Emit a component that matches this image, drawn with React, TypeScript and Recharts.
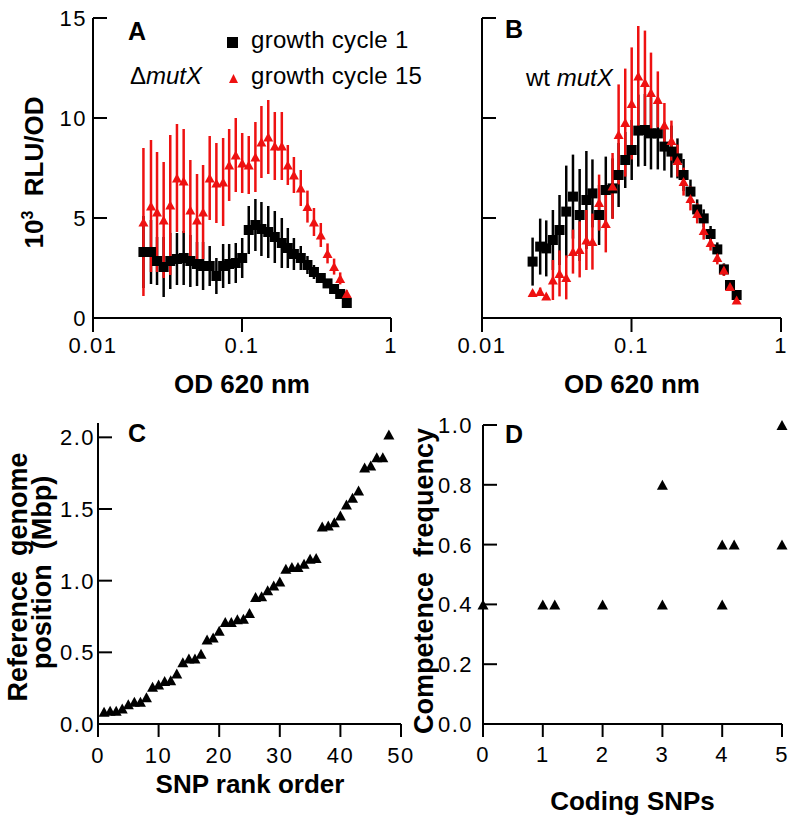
import React from 'react';
import { ScatterChart, Scatter, XAxis, YAxis, ErrorBar } from 'recharts';

const FONT = '"Liberation Sans", Arial, Helvetica, sans-serif';
const RED = '#ee1111';

// Panels A & B: optical density (shared sampling schedule)
const odValues = [0.0218, 0.0245, 0.0269, 0.0298, 0.033, 0.0366, 0.0406, 0.045, 0.0499, 0.0548, 0.0607, 0.0673, 0.0747, 0.082, 0.0908, 0.1003, 0.111, 0.123, 0.135, 0.15, 0.166, 0.185, 0.203, 0.223, 0.248, 0.275, 0.304, 0.338, 0.375, 0.415, 0.456, 0.505];
const odTicks = [0.01, 0.1, 1];
const rluTicks = [0, 5, 10, 15];

// Panel A (ΔmutX)
const aCycle1 = [3.3, 3.3, 2.85, 2.55, 2.85, 2.95, 3.0, 2.85, 2.7, 2.6, 2.6, 2.1, 2.6, 2.7, 2.75, 3.0, 4.4, 4.65, 4.45, 4.3, 4.05, 3.75, 3.5, 3.2, 3.0, 2.65, 2.3, 2.0, 1.73, 1.45, 1.2, 0.75];
const aCycle1Err = [1.8, 1.6, 1.2, 1.5, 1.4, 1.3, 1.35, 1.3, 1.1, 1.2, 1.0, 0.9, 1.1, 1.0, 1.0, 1.0, 1.2, 1.3, 1.35, 1.3, 1.3, 1.25, 1.0, 0.8, 0.6, 0.45, 0.35, 0.25, 0.2, 0.15, 0.1, 0.1];
const aCycle15 = [4.8, 5.6, 5.3, 4.9, 5.65, 7.0, 6.85, 5.4, 4.9, 5.3, 7.0, 6.75, 6.8, 7.65, 8.15, 7.75, 7.65, 8.05, 8.8, 9.05, 8.6, 8.6, 7.65, 7.15, 6.5, 5.57, 4.8, 4.15, 3.23, 2.57, 1.98, 1.23];
const aCycle15Err = [3.7, 3.3, 3.0, 2.9, 3.5, 2.7, 2.6, 2.5, 2.3, 2.35, 2.1, 2.0, 2.2, 1.8, 1.85, 1.5, 1.45, 1.75, 1.8, 1.85, 1.7, 1.7, 1.0, 0.9, 0.9, 0.8, 0.7, 0.6, 0.5, 0.4, 0.3, 0.15];

// Panel B (wt mutX)
const bCycle1 = [2.82, 3.57, 3.48, 3.9, 4.4, 5.32, 6.07, 5.15, 5.9, 6.23, 5.15, 6.4, 6.48, 7.15, 7.9, 8.4, 9.37, 9.4, 9.23, 9.23, 8.57, 8.32, 7.98, 7.15, 6.32, 5.43, 4.98, 4.2, 3.43, 2.43, 1.65, 1.15];
const bCycle1Err = [1.2, 1.4, 1.4, 1.5, 1.75, 2.3, 2.1, 2.3, 2.45, 1.7, 1.5, 1.67, 1.5, 1.6, 1.4, 1.5, 1.8, 1.8, 1.8, 1.8, 1.2, 1.3, 1.0, 0.8, 0.6, 0.5, 0.45, 0.4, 0.35, 0.3, 0.2, 0.1];
const bCycle15 = [1.27, 1.32, 1.1, 1.9, 2.23, 2.03, 3.32, 3.43, 3.9, 3.82, 5.77, 4.73, 6.6, 9.18, 9.77, 10.73, 12.1, 11.77, 11.27, 10.93, 9.65, 8.87, 7.87, 6.82, 5.98, 5.23, 4.37, 3.77, 3.03, 2.4, 1.57, 0.9];
const bCycle15Err = [0.1, 0.2, 0.1, 1.0, 1.15, 1.1, 1.1, 1.4, 1.5, 1.4, 1.4, 1.45, 1.65, 2.5, 2.7, 2.8, 2.5, 2.6, 2.0, 1.4, 1.1, 1.0, 0.8, 0.7, 0.6, 0.5, 0.45, 0.4, 0.35, 0.3, 0.2, 0.1];

// Panel C
const snpRank = [1, 2, 3, 4, 5, 6, 7, 8, 9, 10, 11, 12, 13, 14, 15, 16, 17, 18, 19, 20, 21, 22, 23, 24, 25, 26, 27, 28, 29, 30, 31, 32, 33, 34, 35, 36, 37, 38, 39, 40, 41, 42, 43, 44, 45, 46, 47, 48];
const genomePos = [0.086, 0.093, 0.093, 0.109, 0.137, 0.155, 0.155, 0.186, 0.26, 0.276, 0.3, 0.306, 0.353, 0.43, 0.457, 0.457, 0.49, 0.59, 0.603, 0.65, 0.712, 0.712, 0.731, 0.735, 0.775, 0.886, 0.891, 0.933, 0.967, 0.995, 1.084, 1.095, 1.095, 1.118, 1.153, 1.158, 1.378, 1.385, 1.408, 1.455, 1.531, 1.578, 1.629, 1.79, 1.803, 1.861, 1.861, 2.019];
const rankTicks = [0, 10, 20, 30, 40, 50];
const posTicks = [0, 0.5, 1, 1.5, 2];

// Panel D
const codingSnps = [0, 1, 1.2, 2, 3, 3, 4, 4, 4.2, 5, 5];
const competence = [0.4, 0.4, 0.4, 0.4, 0.4, 0.8, 0.4, 0.6, 0.6, 0.6, 1.0];
const snpTicks = [0, 1, 2, 3, 4, 5];
const compTicks = [0, 0.2, 0.4, 0.6, 0.8, 1.0];

const toSeries = (xs: number[], ys: number[], errs?: number[]) =>
  xs.map((x, i) => ({ x, y: ys[i], err: errs ? errs[i] : 0 }));

const SquareShape = (props: any) => {
  const { cx, cy } = props;
  if (cx == null || cy == null) return null;
  return <rect x={cx - 5} y={cy - 5} width={10} height={10} fill="#000" />;
};
const RedTriangle = (props: any) => {
  const { cx, cy } = props;
  if (cx == null || cy == null) return null;
  const w = 10, h = 9;
  return <polygon points={`${cx - w / 2},${cy + h / 2} ${cx + w / 2},${cy + h / 2} ${cx},${cy - h / 2}`} fill={RED} />;
};
const BlackTriangle = (props: any) => {
  const { cx, cy } = props;
  if (cx == null || cy == null) return null;
  const w = 11, h = 10;
  return <polygon points={`${cx - w / 2},${cy + h / 2} ${cx + w / 2},${cy + h / 2} ${cx},${cy - h / 2}`} fill="#000" />;
};

const makeYTick = (margin: number, fmt: (v: number) => string, showLabel: boolean) => (props: any) => {
  const { x, y, payload } = props;
  const ax = x + margin;
  return (
    <g>
      <line x1={ax} x2={ax + 14} y1={y} y2={y} stroke="#000" strokeWidth={2} />
      {showLabel && (
        <text x={x} y={y} dy="0.36em" textAnchor="end" fontSize={22} fontFamily={FONT} fill="#000" letterSpacing={1.5}>
          {fmt(payload.value)}
        </text>
      )}
    </g>
  );
};

const axisLine = { stroke: '#000', strokeWidth: 2 };
const tickLine = { stroke: '#000', strokeWidth: 2 };
const xTickStyle = { fill: '#000', fontSize: 22, fontFamily: FONT, letterSpacing: 1.5 };

type GrowthProps = {
  left: number; top: number; width: number; height: number;
  margin: { top: number; right: number; bottom: number; left: number };
  black: number[]; blackErr: number[]; red: number[]; redErr: number[]; showYLabels: boolean;
};

function GrowthPanel(p: GrowthProps) {
  return (
    <div style={{ position: 'absolute', left: p.left, top: p.top, width: p.width, height: p.height }}>
      <ScatterChart width={p.width} height={p.height} margin={p.margin}>
        <XAxis type="number" dataKey="x" scale="log" domain={[0.01, 1]} ticks={odTicks} allowDataOverflow interval={0}
          height={40} axisLine={axisLine} tickLine={tickLine} tickSize={14} tickMargin={5} tick={xTickStyle}
          tickFormatter={(v: number) => String(v)} />
        <YAxis type="number" dataKey="y" domain={[0, 15]} ticks={rluTicks} interval={0} width={40}
          axisLine={axisLine} tickLine={false} tickSize={0} tickMargin={6}
          tick={makeYTick(6, (v) => String(v), p.showYLabels)} />
        <Scatter data={toSeries(odValues, p.black, p.blackErr)} shape={SquareShape} isAnimationActive={false}>
          <ErrorBar dataKey="err" direction="y" width={0} stroke="#000" strokeWidth={2.5} isAnimationActive={false} />
        </Scatter>
        <Scatter data={toSeries(odValues, p.red, p.redErr)} shape={RedTriangle} isAnimationActive={false}>
          <ErrorBar dataKey="err" direction="y" width={0} stroke={RED} strokeWidth={2.5} isAnimationActive={false} />
        </Scatter>
      </ScatterChart>
    </div>
  );
}

export default function App() {
  return (
    <div style={{ position: 'absolute', left: 0, top: 0, width: 794, height: 823, background: '#fff', overflow: 'hidden' }}>
      <GrowthPanel left={0} top={0} width={400} height={400} margin={{ top: 18, right: 9, bottom: 42, left: 53 }}
        black={aCycle1} blackErr={aCycle1Err} red={aCycle15} redErr={aCycle15Err} showYLabels={true} />
      <GrowthPanel left={400} top={0} width={394} height={400} margin={{ top: 18, right: 13, bottom: 42, left: 42 }}
        black={bCycle1} blackErr={bCycle1Err} red={bCycle15} redErr={bCycle15Err} showYLabels={false} />

      <div style={{ position: 'absolute', left: 0, top: 400, width: 425, height: 400 }}>
        <ScatterChart width={425} height={400} margin={{ top: 23, right: 24, bottom: 36, left: 58 }}>
          <XAxis type="number" dataKey="x" domain={[0, 50]} ticks={rankTicks} interval={0} height={40}
            axisLine={axisLine} tickLine={tickLine} tickSize={13} tickMargin={10} tick={xTickStyle} />
          <YAxis type="number" dataKey="y" domain={[0, 2.1]} ticks={posTicks} interval={0} width={40}
            axisLine={axisLine} tickLine={false} tickSize={0} tickMargin={3}
            tick={makeYTick(3, (v) => v.toFixed(1), true)} />
          <Scatter data={toSeries(snpRank, genomePos)} shape={BlackTriangle} isAnimationActive={false} />
        </ScatterChart>
      </div>

      <div style={{ position: 'absolute', left: 410, top: 400, width: 384, height: 400 }}>
        <ScatterChart width={384} height={400} margin={{ top: 25, right: 12, bottom: 36, left: 33 }}>
          <XAxis type="number" dataKey="x" domain={[0, 5]} ticks={snpTicks} interval={0} height={40}
            axisLine={axisLine} tickLine={tickLine} tickSize={13} tickMargin={9} tick={xTickStyle} />
          <YAxis type="number" dataKey="y" domain={[0, 1]} ticks={compTicks} interval={0} width={40}
            axisLine={axisLine} tickLine={false} tickSize={0} tickMargin={10}
            tick={makeYTick(10, (v) => v.toFixed(1), true)} />
          <Scatter data={toSeries(codingSnps, competence)} shape={BlackTriangle} isAnimationActive={false} />
        </ScatterChart>
      </div>

      <svg width={794} height={823} style={{ position: 'absolute', left: 0, top: 0, pointerEvents: 'none' }}>
        <g fontFamily={FONT} fill="#000">
          {/* panel letters */}
          <text x={128} y={40} fontSize={25} fontWeight="bold">A</text>
          <text x={505} y={38} fontSize={25} fontWeight="bold">B</text>
          <text x={128} y={442} fontSize={25} fontWeight="bold">C</text>
          <text x={505} y={443} fontSize={25} fontWeight="bold">D</text>

          {/* legend */}
          <rect x={227} y={37} width={11} height={11} fill="#000" />
          <text x={251} y={48} fontSize={24} letterSpacing={0.3}>growth cycle 1</text>
          <polygon points="229,83 238,83 233.5,74" fill={RED} />
          <text x={251} y={84} fontSize={24} letterSpacing={0.3}>growth cycle 15</text>

          <text x={130} y={84} fontSize={24}>Δ<tspan fontStyle="italic">mutX</tspan></text>
          <text x={526} y={86} fontSize={24} style={{ whiteSpace: 'pre' }}>wt <tspan fontStyle="italic">mutX</tspan></text>

          {/* axis titles */}
          <text transform="translate(43,172.5) rotate(-90)" textAnchor="middle" fontSize={26} fontWeight="bold" style={{ whiteSpace: 'pre' }}>
            10<tspan dy={-10} fontSize={16}>3</tspan><tspan dy={10}>  RLU/OD</tspan>
          </text>
          <text x={242} y={393} textAnchor="middle" fontSize={26} fontWeight="bold">OD 620 nm</text>
          <text x={632} y={393} textAnchor="middle" fontSize={26} fontWeight="bold">OD 620 nm</text>

          <text transform="translate(27,577) rotate(-90)" textAnchor="middle" fontSize={27} fontWeight="bold" style={{ whiteSpace: 'pre' }}>Reference  genome</text>
          <text transform="translate(51,572.5) rotate(-90)" textAnchor="middle" fontSize={27} fontWeight="bold" style={{ whiteSpace: 'pre' }}>position  (Mbp)</text>
          <text x={250} y={793} textAnchor="middle" fontSize={26} fontWeight="bold">SNP rank order</text>

          <text transform="translate(433,581) rotate(-90)" textAnchor="middle" fontSize={27} fontWeight="bold" style={{ whiteSpace: 'pre' }}>Competence  frequency</text>
          <text x={632.5} y={810} textAnchor="middle" fontSize={26} fontWeight="bold">Coding SNPs</text>
        </g>
      </svg>
    </div>
  );
}
